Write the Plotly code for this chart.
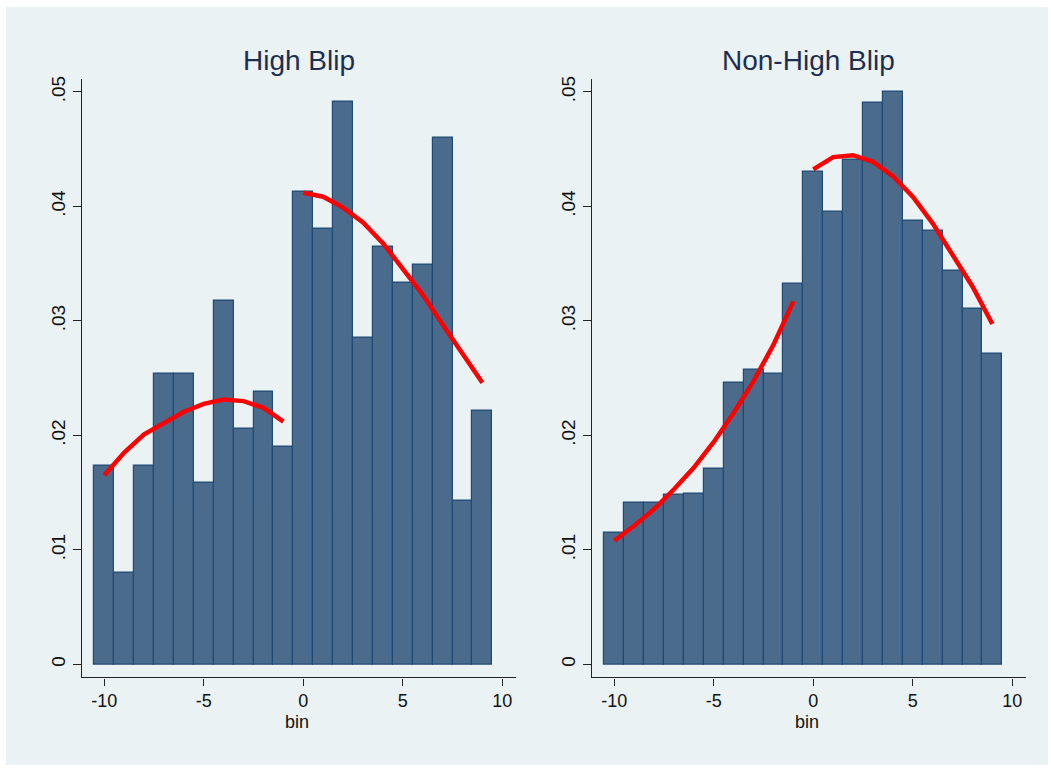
import plotly.graph_objects as go

W, H = 1051, 768

bins = list(range(-10, 10))

high_density = [0.0174, 0.0080, 0.0174, 0.02535, 0.02535, 0.01588, 0.03173, 0.0206, 0.02378, 0.01905,
                0.04126, 0.0381, 0.04916, 0.02854, 0.0365, 0.0333, 0.0349, 0.04597, 0.01426, 0.02218]
non_density = [0.01147, 0.01411, 0.01411, 0.01481, 0.01495, 0.01713, 0.02462, 0.02575, 0.02543, 0.03325,
               0.04303, 0.03957, 0.04405, 0.04907, 0.05006, 0.03873, 0.03789, 0.03441, 0.03107, 0.02712]

fit_x_neg = list(range(-10, 0))
fit_x_pos = list(range(0, 10))
high_fit_neg = [0.01652, 0.01850, 0.02009, 0.02111, 0.02207, 0.02276, 0.02314, 0.0230, 0.02241, 0.0212]
high_fit_pos = [0.0412, 0.04085, 0.0399, 0.0386, 0.0368, 0.0346, 0.0323, 0.0297, 0.0272, 0.0246]
non_fit_neg = [0.0108, 0.01211, 0.01356, 0.0153, 0.01719, 0.01943, 0.02198, 0.02474, 0.02793, 0.03171]
non_fit_pos = [0.04324, 0.04431, 0.04448, 0.0439, 0.04265, 0.04085, 0.03853, 0.03583, 0.03301, 0.02973]

titles = ["High Blip", "Non-High Blip"]
x_title = "bin"
ytick_vals = [0, 0.01, 0.02, 0.03, 0.04, 0.05]
ytick_text = ["0", ".01", ".02", ".03", ".04", ".05"]
xtick_vals = [-10, -5, 0, 5, 10]
xtick_text = ["-10", "-5", "0", "5", "10"]

BG = "#EAF2F3"
BAR = "#4A6B8C"
BAR_LINE = "#1F4A75"
TITLE_C = "#1E2E50"
FONT = "Liberation Sans, Arial, sans-serif"

fig = go.Figure()

panels = [
    (high_density, high_fit_neg, high_fit_pos, "x", "y"),
    (non_density, non_fit_neg, non_fit_pos, "x2", "y2"),
]
for dens, fneg, fpos, xa, ya in panels:
    fig.add_trace(go.Bar(x=bins, y=dens, width=1.0, xaxis=xa, yaxis=ya,
                         marker=dict(color=BAR, line=dict(color=BAR_LINE, width=1.2)),
                         showlegend=False))
    fig.add_trace(go.Scatter(x=fit_x_neg, y=fneg, mode="lines", xaxis=xa, yaxis=ya,
                             line=dict(color="#FF0000", width=4.5), showlegend=False))
    fig.add_trace(go.Scatter(x=fit_x_pos, y=fpos, mode="lines", xaxis=xa, yaxis=ya,
                             line=dict(color="#FF0000", width=4.5), showlegend=False))

ytop = 1 - 76 / H
ybot = 1 - 677 / H
dom1 = [82 / W, 516 / W]
dom2 = [592 / W, 1026 / W]

xcommon = dict(range=[-11.12, 10.69], tickvals=xtick_vals, ticktext=xtick_text,
               showgrid=False, zeroline=False, showline=True, linecolor="#222222", linewidth=1.3,
               ticks="outside", ticklen=7, tickcolor="#222222", tickwidth=1.3,
               tickfont=dict(family=FONT, size=18, color="#111111"))
ycommon = dict(range=[-0.00113, 0.05116], tickvals=ytick_vals, ticktext=ytick_text,
               showgrid=True, gridcolor=BG, gridwidth=2, zeroline=False,
               showline=True, linecolor="#222222", linewidth=1.3,
               ticks="outside", ticklen=8, tickcolor="#222222", tickwidth=1.3, tickangle=-90,
               tickfont=dict(family=FONT, size=19, color="#111111"))

annotations = []
for dom, t in zip([dom1, dom2], titles):
    cx = (dom[0] + dom[1]) / 2
    annotations.append(dict(text=t, xref="paper", yref="paper", x=cx, y=1 - 58 / H,
                            showarrow=False, xanchor="center", yanchor="middle",
                            font=dict(family=FONT, size=28, color=TITLE_C)))
    annotations.append(dict(text=x_title, xref="paper", yref="paper", x=cx - 2 / W, y=1 - 722 / H,
                            showarrow=False, xanchor="center", yanchor="middle",
                            font=dict(family=FONT, size=18, color="#111111")))

fig.update_layout(
    width=W, height=H,
    margin=dict(l=0, r=0, t=0, b=0),
    paper_bgcolor="white", plot_bgcolor="white",
    bargap=0,
    xaxis=dict(domain=dom1, anchor="y", **xcommon),
    yaxis=dict(domain=[ybot, ytop], anchor="x", **ycommon),
    xaxis2=dict(domain=dom2, anchor="y2", **xcommon),
    yaxis2=dict(domain=[ybot, ytop], anchor="x2", **ycommon),
    shapes=[dict(type="rect", xref="paper", yref="paper", layer="below",
                 x0=6 / W, x1=1048 / W, y0=1 - 765 / H, y1=1 - 4 / H,
                 fillcolor=BG, line=dict(width=0))],
    annotations=annotations,
)

fig.write_html("out.html", config={"displayModeBar": False},
               post_script="document.body.style.margin='0';document.body.style.overflow='hidden';")
